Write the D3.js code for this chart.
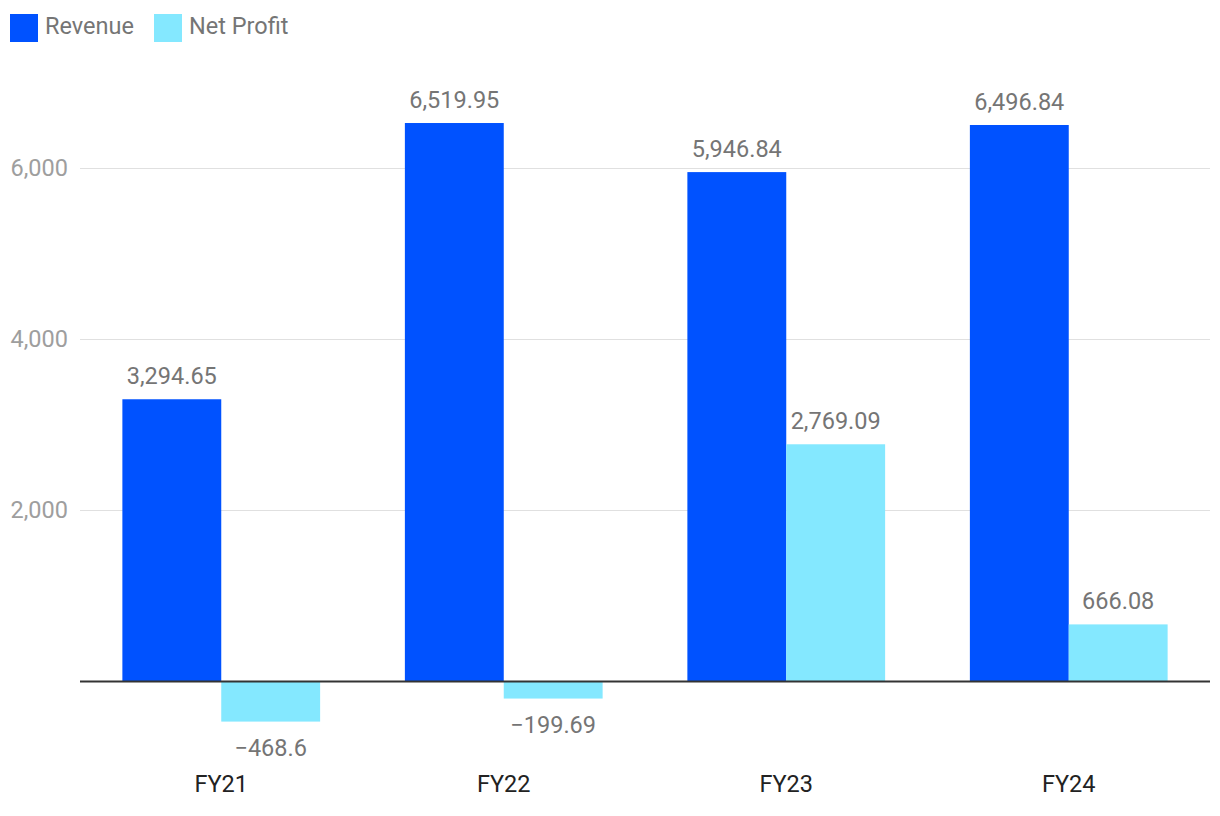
<!DOCTYPE html>
<html>
<head>
<meta charset="utf-8">
<script src="https://cdn.jsdelivr.net/npm/d3@7"></script>
<style>
  html, body { margin: 0; padding: 0; background: #fff; }
  svg { display: block; font-family: Roboto, "Noto Sans", sans-serif; }
</style>
</head>
<body>
<svg id="chart" width="1220" height="816"></svg>
<script>
const categories = ["FY21", "FY22", "FY23", "FY24"];
const seriesNames = ["Revenue", "Net Profit"];
const revenue = [3294.65, 6519.95, 5946.84, 6496.84];
const netProfit = [-468.6, -199.69, 2769.09, 666.08];
const yTicks = [2000, 4000, 6000];
const colors = ["#0052FF", "#84E8FF"];

const svg = d3.select("#chart");
const left = 80, right = 1210;
const FS = 23.5;

const x0 = d3.scaleBand().domain(categories).range([left, right]).padding(0);
const groupW = x0.bandwidth() * 0.7;
const x1 = d3.scaleBand().domain(seriesNames).range([0, groupW]).padding(0);
const y = d3.scaleLinear().domain([-1000, 7000]).range([767.1, 81.9]);

// gridlines
const grid = svg.append("g");
grid.selectAll("line").data(yTicks).join("line")
  .attr("x1", left).attr("x2", right)
  .attr("y1", d => Math.round(y(d)) + 0.5).attr("y2", d => Math.round(y(d)) + 0.5)
  .attr("stroke", "#e0e0e0").attr("stroke-width", 1);

// y axis labels
const yAxis = d3.axisLeft(y).tickValues(yTicks).tickFormat(d3.format(",")).tickSize(0).tickPadding(12);
const ya = svg.append("g").attr("transform", `translate(${left},0)`).call(yAxis);
ya.select(".domain").remove();
ya.selectAll("text").attr("font-size", FS).attr("fill", "#9e9e9e")
  .attr("font-family", "Roboto, sans-serif");

const data = categories.map((c, i) => ({ cat: c, vals: [revenue[i], netProfit[i]] }));

const groups = svg.append("g").selectAll("g").data(data).join("g")
  .attr("transform", d => `translate(${x0(d.cat) + (x0.bandwidth() - groupW) / 2},0)`);

groups.selectAll("rect").data(d => d.vals.map((v, j) => ({ v, s: seriesNames[j], j }))).join("rect")
  .attr("x", d => x1(d.s))
  .attr("width", x1.bandwidth())
  .attr("y", d => Math.min(y(d.v), y(0)))
  .attr("height", d => Math.abs(y(d.v) - y(0)))
  .attr("fill", d => colors[d.j]);

const fmt = d3.format(",");
groups.selectAll("text.lbl").data(d => d.vals.map((v, j) => ({ v, s: seriesNames[j], j }))).join("text")
  .attr("class", "lbl")
  .attr("x", d => x1(d.s) + x1.bandwidth() / 2)
  .attr("y", d => d.v >= 0 ? y(d.v) - 15 : y(d.v) + 34)
  .attr("text-anchor", "middle")
  .attr("font-size", FS)
  .attr("fill", "#757575")
  .text(d => fmt(d.v));

// zero baseline
svg.append("line")
  .attr("x1", left).attr("x2", right)
  .attr("y1", y(0)).attr("y2", y(0))
  .attr("stroke", "#333").attr("stroke-width", 2);

// x axis labels
const xAxis = d3.axisBottom(x0).tickSize(0).tickPadding(0);
const xa = svg.append("g").attr("transform", `translate(0,792)`).call(xAxis);
xa.select(".domain").remove();
xa.selectAll("text").attr("font-size", FS).attr("fill", "#222")
  .attr("font-family", "Roboto, sans-serif").attr("dy", 0);

// legend
const legend = svg.append("g");
const legX = [10, 154];
seriesNames.forEach((s, i) => {
  legend.append("rect").attr("x", legX[i]).attr("y", 14).attr("width", 28).attr("height", 28).attr("fill", colors[i]);
  legend.append("text").attr("x", legX[i] + 35).attr("y", 34).attr("font-size", FS).attr("fill", "#757575").text(s);
});
</script>
</body>
</html>
